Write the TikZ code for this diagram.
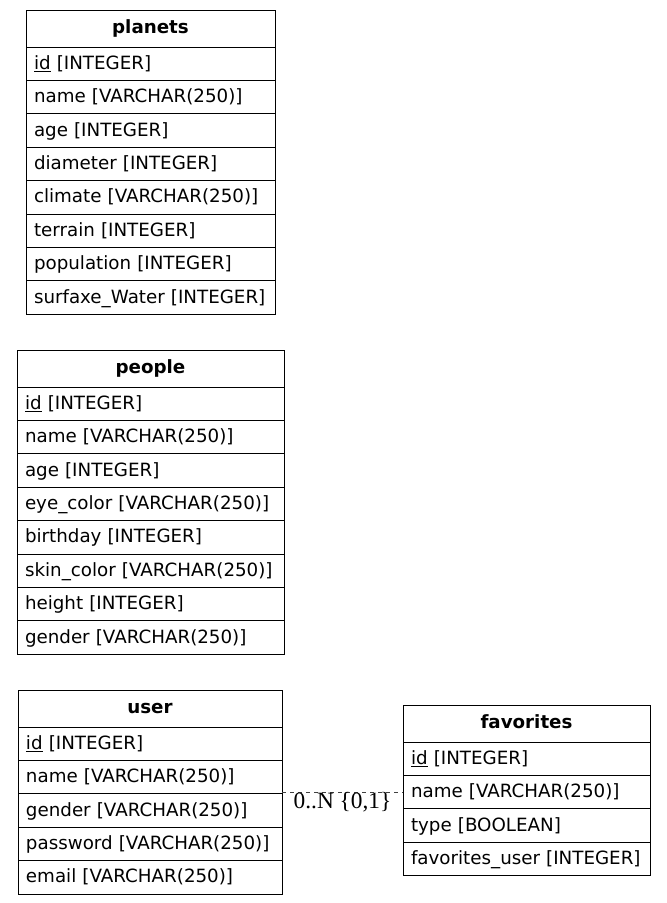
\documentclass[tikz,border=0pt]{standalone}
\usepackage{fontspec}
\setmainfont{DejaVu Sans}
\newfontfamily\edgefont{Liberation Serif}

\def\tblfont{\fontsize{13.7}{16}\selectfont}

% one table: name, left x, top y, width (px), fields
\newcommand{\dbtable}[5]{%
  \node[tblhead, text width=#4*0.75pt] (#1) at (#2,#3) {#1};
  \foreach \f [count=\i] in {#5} {
    \node[tblrow, text width=#4*0.75pt-12pt] (#1-\i) at (#2,{#3+37+(\i-1)*33.4}) {\mbox{\f}};
  }
}

\tikzset{
  tblhead/.style={draw, line width=0.75pt, outer sep=0pt, anchor=north west,
    inner xsep=0pt, inner ysep=0pt, minimum height=37*0.75pt, align=center,
    text height=8.5pt, text depth=1pt, font=\tblfont\bfseries},
  tblrow/.style={draw, line width=0.75pt, outer sep=0pt, anchor=north west,
    inner xsep=6pt, inner ysep=0pt, minimum height=33.4*0.75pt, align=left,
    text height=9.5pt, text depth=1pt, font=\tblfont},
  relation/.style={draw=black!75, line width=0.75pt, dash pattern=on 3pt off 3pt}
}

\begin{document}
\begin{tikzpicture}[x=0.75pt, y=-0.75pt]
    \useasboundingbox (0,0) rectangle (667,903);

    \dbtable{planets}{26}{10}{249}{\underline{id} [INTEGER], name [VARCHAR(250)], age [INTEGER], diameter [INTEGER], climate [VARCHAR(250)], terrain [INTEGER], population [INTEGER], surfaxe\_Water [INTEGER]}
    \dbtable{people}{17}{350}{267}{\underline{id} [INTEGER], name [VARCHAR(250)], age [INTEGER], eye\_color [VARCHAR(250)], birthday [INTEGER], skin\_color [VARCHAR(250)], height [INTEGER], gender [VARCHAR(250)]}
    \dbtable{user}{18}{690}{264}{\underline{id} [INTEGER], name [VARCHAR(250)], gender [VARCHAR(250)], password [VARCHAR(250)], email [VARCHAR(250)]}
    \dbtable{favorites}{403}{705}{247}{\underline{id} [INTEGER], name [VARCHAR(250)], type [BOOLEAN], favorites\_user [INTEGER]}

    \draw[relation] (user-2.east |- favorites-2.west) -- (favorites-2.west)
        node[midway, below=0pt, inner sep=0pt, font=\edgefont\fontsize{17.5}{19}\selectfont] {0..N \{0,1\}};
\end{tikzpicture}
\end{document}
